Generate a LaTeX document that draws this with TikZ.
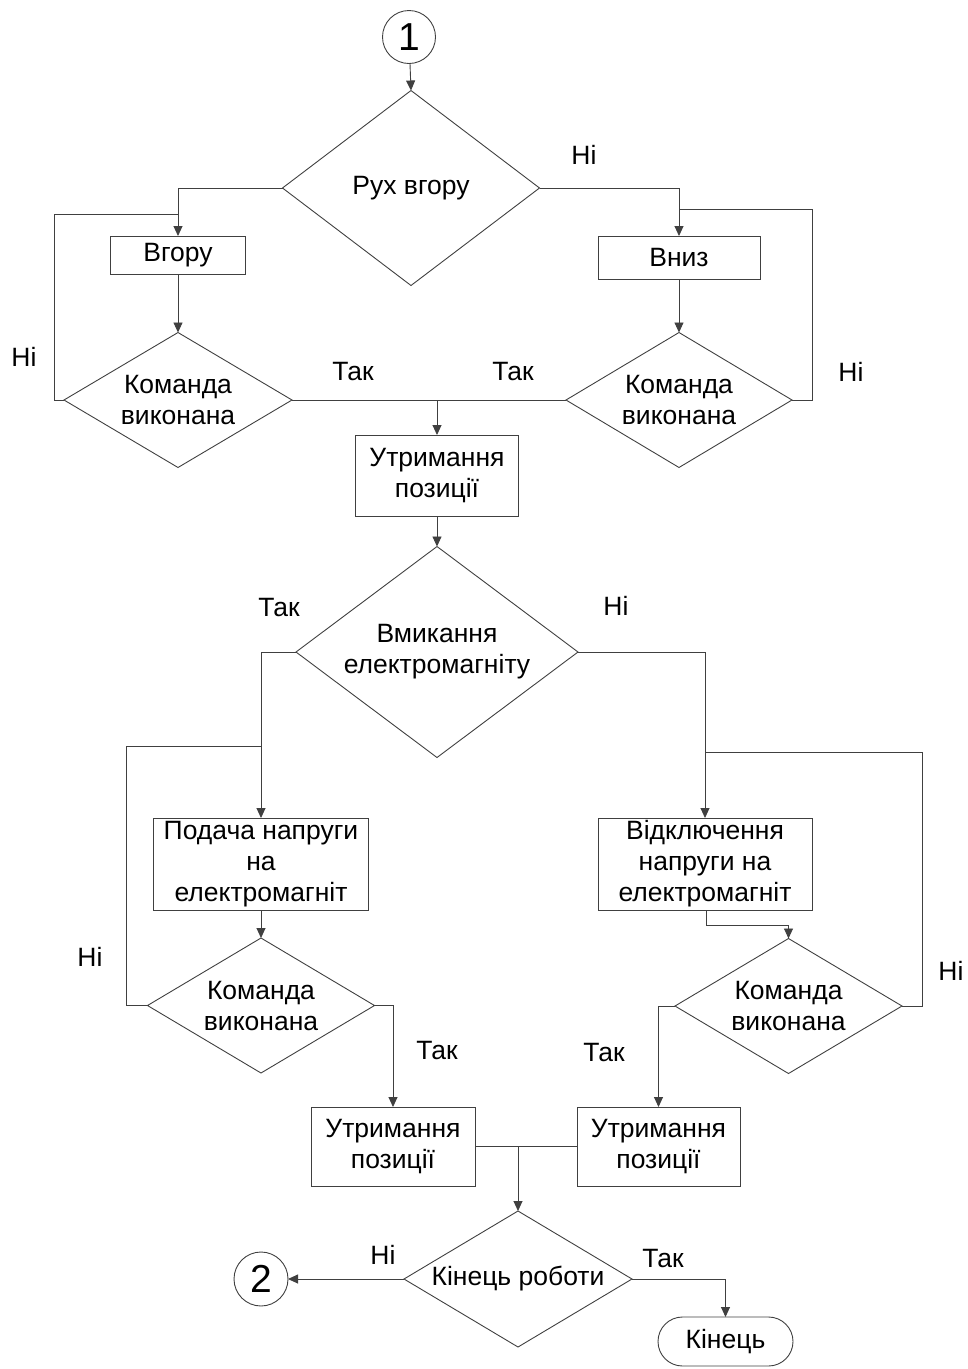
\documentclass[tikz,border=0pt]{standalone}
\usepackage{fontspec}
\setmainfont{Liberation Sans}
\usetikzlibrary{shapes.geometric,shapes.misc,arrows.meta}
\tikzset{
  every node/.style={font=\fontsize{26.5}{31}\selectfont},
  ln/.style={draw=black!75, line width=0.9pt},
  arr/.style={ln, -{Triangle[length=10pt,width=9pt]}},
  dec/.style={diamond, ln, inner sep=0pt, outer sep=0pt, minimum width=#1},
  proc/.style={rectangle, ln, align=center, inner sep=0pt, outer sep=0pt},
  conn/.style={circle, ln, inner sep=0pt, outer sep=0pt, minimum size=53pt, font=\fontsize{39}{39}\selectfont},
  term/.style={rounded rectangle, ln, inner sep=0pt, outer sep=0pt},
  lbl/.style={inner sep=0pt},
}
\begin{document}
\begin{tikzpicture}[x=1pt,y=-1pt]
\useasboundingbox (0,0) rectangle (968,1369);
% nodes
\node[conn] (c1) at (409,37) {1};
\node[dec=257pt, minimum height=195pt, label={[align=center]center:Рух вгору}] (d1) at (411,188) {};
\node[proc, minimum width=135pt, minimum height=38pt] (bup) at (178,255) {Вгору};
\node[proc, minimum width=162pt, minimum height=43pt] (bdn) at (679,257.5) {Вниз};
\node[dec=228pt, minimum height=135pt, label={[align=center]center:Команда\\виконана}] (d2) at (178,400) {};
\node[dec=226pt, minimum height=135pt, label={[align=center]center:Команда\\виконана}] (d3) at (679,400) {};
\node[proc, minimum width=163pt, minimum height=81pt] (h1) at (437,475.5) {Утримання\\позиції};
\node[dec=282pt, minimum height=211pt, label={[align=center]center:Вмикання\\електромагніту}] (d4) at (437,652) {};
\node[proc, minimum width=215pt, minimum height=92pt] (bpod) at (261,864) {Подача напруги\\на\\електромагніт};
\node[proc, minimum width=214pt, minimum height=92pt] (bvid) at (705,864) {Відключення\\напруги на\\електромагніт};
\node[dec=227pt, minimum height=135pt, label={[align=center]center:Команда\\виконана}] (d5) at (261,1005.5) {};
\node[dec=227pt, minimum height=135pt, label={[align=center]center:Команда\\виконана}] (d6) at (788.5,1006) {};
\node[proc, minimum width=164pt, minimum height=79pt] (h2) at (393,1146.5) {Утримання\\позиції};
\node[proc, minimum width=163pt, minimum height=79pt] (h3) at (658.5,1146.5) {Утримання\\позиції};
\node[dec=228pt, minimum height=136pt, label={[align=center]center:Кінець роботи}] (d7) at (518,1279) {};
\node[conn, minimum size=54pt] (c2) at (261,1279) {2};
\node[term, minimum width=135pt, minimum height=49pt] (end) at (725.5,1341.5) {Кінець};
% bend coordinates
\coordinate (l1) at (54,214);
\coordinate (r1) at (812,209);
\coordinate (l2) at (126,746);
\coordinate (r2) at (922,752);
\coordinate (k1) at (706,925);
% connectors
\draw[arr] (c1) -- (d1.north);
\draw[arr] (d1.west) -| (bup.north);
\draw[arr] (d1.east) -| (bdn.north);
\draw[arr] (bup) -- (d2.north);
\draw[arr] (bdn) -- (d3.north);
\draw[ln] (d2.west) -| (l1) -- (bup.north |- l1);
\draw[ln] (d3.east) -| (r1) -- (bdn.north |- r1);
\draw[ln] (d2.east) -- (d3.west);
\draw[arr] (h1.north |- d2.east) -- (h1.north);
\draw[arr] (h1) -- (d4.north);
\draw[arr] (d4.west) -| (bpod.north);
\draw[arr] (d4.east) -| (bvid.north);
\draw[ln] (d5.west) -| (l2) -- (bpod.north |- l2);
\draw[ln] (d6.east) -| (r2) -- (bvid.north |- r2);
\draw[arr] (bpod) -- (d5.north);
\draw[arr] (bvid.south -| k1) -- (k1) -| (d6.north);
\draw[arr] (d5.east) -| (h2.north);
\draw[arr] (d6.west) -| (h3.north);
\draw[ln] (h2.east) -- (h3.west);
\draw[arr] (h2.east -| d7.north) -- (d7.north);
\draw[arr] (d7.west) -- (c2.east);
\draw[arr] (d7.east) -| (end.north);
% labels
\node[lbl] (t1) at (584,155) {Ні};
\node[lbl] (t2) at (24,357) {Ні};
\node[lbl] (t3) at (353,372) {Так};
\node[lbl] (t4) at (513,372) {Так};
\node[lbl] (t5) at (851,372) {Ні};
\node[lbl] (t6) at (279,608) {Так};
\node[lbl] (t7) at (616,606) {Ні};
\node[lbl] (t8) at (90,957) {Ні};
\node[lbl] (t9) at (437,1050) {Так};
\node[lbl] (t10) at (951,971) {Ні};
\node[lbl] (t11) at (604,1052) {Так};
\node[lbl] (t12) at (383,1255) {Ні};
\node[lbl] (t13) at (663,1258) {Так};
\end{tikzpicture}
\end{document}
